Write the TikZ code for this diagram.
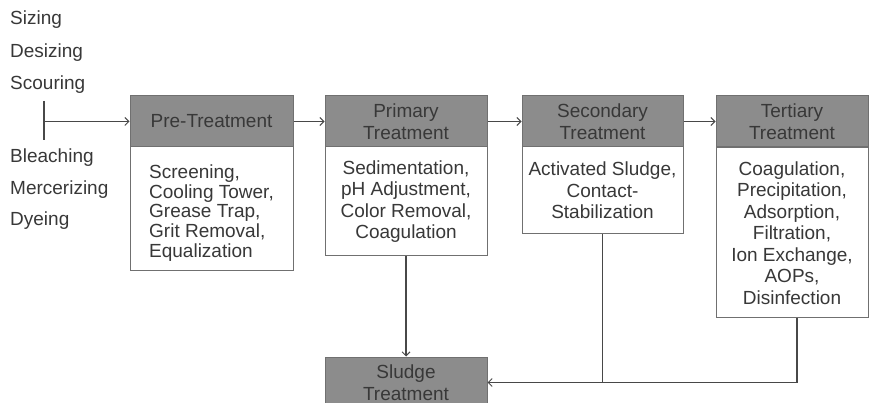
\documentclass[tikz,border=0pt]{standalone}
\usepackage{fontspec}
\setmainfont{Liberation Sans}
\usetikzlibrary{arrows.meta}
\definecolor{txt}{HTML}{383838}
\definecolor{hdrfill}{HTML}{8C8C8C}
\definecolor{boxline}{HTML}{707070}
\definecolor{conn}{HTML}{484848}
\begin{document}
\begin{tikzpicture}[x=1pt,y=-1pt,
  every node/.style={font=\fontsize{19}{21.5}\selectfont, text=txt},
  hdr/.style={draw=boxline, line width=1pt, fill=hdrfill, minimum height=51pt, inner sep=0pt, align=center},
  bodybox/.style={draw=boxline, line width=1pt, fill=white, inner sep=0pt, align=center},
  lbl/.style={anchor=west, inner sep=0pt},
  flow/.style={draw=conn, line width=1.1pt, -{Straight Barb[length=4pt,width=8pt,line width=1pt]}},
  plain/.style={draw=conn, line width=1.1pt}]
\useasboundingbox (0,0) rectangle (870,403);
% left labels
\node[lbl] (l1) at (10,20) {Sizing};
\node[lbl] (l2) at (10,53) {Desizing};
\node[lbl] (l3) at (10,85) {Scouring};
\node[lbl] (l4) at (10,158) {Bleaching};
\node[lbl] (l5) at (10,190) {Mercerizing};
\node[lbl] (l6) at (10,221) {Dyeing};
% boxes
\node[hdr, minimum width=163pt] (pre) at (211.5,121.5) {Pre-Treatment};
\node[bodybox, minimum width=163pt, minimum height=124pt] (prebody) at (211.5,209) {};
\node[inner sep=0pt, align=left, font=\fontsize{19}{19.7}\selectfont] (pretext) at (211.5,213) {Screening,\\Cooling Tower,\\Grease Trap,\\Grit Removal,\\Equalization};
\node[hdr, minimum width=162pt] (pri) at (406,121.5) {Primary\\Treatment};
\node[bodybox, minimum width=162pt, minimum height=109pt] (pribody) at (406,201.5) {Sedimentation,\\pH Adjustment,\\Color Removal,\\Coagulation};
\node[hdr, minimum width=161pt] (sec) at (602.5,121.5) {Secondary\\Treatment};
\node[bodybox, minimum width=161pt, minimum height=87pt] (secbody) at (602.5,190.5) {Activated Sludge,\\Contact-\\Stabilization};
\node[hdr, minimum width=152pt] (ter) at (792,121.5) {Tertiary\\Treatment};
\node[bodybox, minimum width=152pt, minimum height=170pt] (terbody) at (792,233) {Coagulation,\\Precipitation,\\Adsorption,\\Filtration,\\Ion Exchange,\\AOPs,\\Disinfection};
\node[hdr, minimum width=162pt] (sludge) at (406,382.5) {Sludge\\Treatment};
% connectors
\coordinate (s1) at (44,101);
\coordinate (s2) at (44,140);
\coordinate (sm) at (44,121.5);
\draw[plain] (s1) -- (s2);
\draw[flow] (sm) -- (pre.west);
\draw[flow] (pre.east) -- (pri.west);
\draw[flow] (pri.east) -- (sec.west);
\draw[flow] (sec.east) -- (ter.west);
\draw[flow] (pribody.south) -- (sludge.north);
\coordinate (tdrop) at ([xshift=5pt]terbody.south);
\draw[flow] (tdrop) |- (sludge.east);
\draw[plain] (secbody.south) -- (secbody.south |- sludge.east);
\end{tikzpicture}
\end{document}
